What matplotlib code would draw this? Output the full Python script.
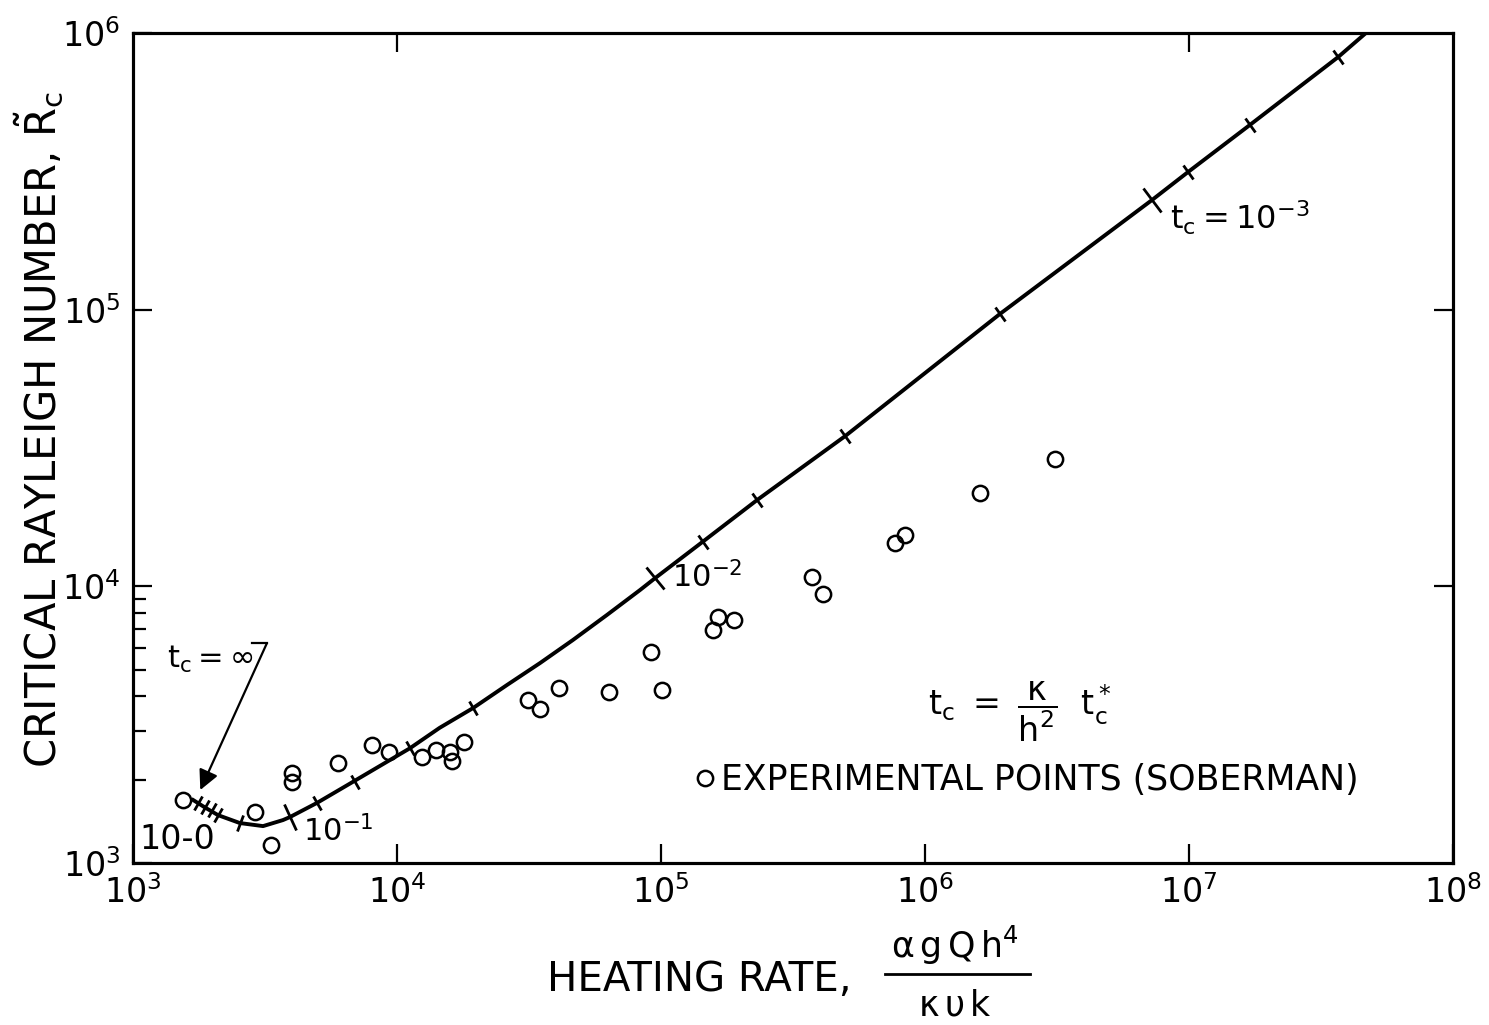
import numpy as np
import matplotlib
matplotlib.use('Agg')
import matplotlib.pyplot as plt
from matplotlib.markers import MarkerStyle
from matplotlib.transforms import Affine2D
from matplotlib.ticker import FixedLocator, NullFormatter, NullLocator
from matplotlib.lines import Line2D

plt.rcParams['font.family'] = ['DejaVu Sans']
plt.rcParams['mathtext.default'] = 'regular'

# stability curve, heating rate vs critical Rayleigh number
curve_x = [1690, 1870, 2100, 2540, 3110, 3700, 3930, 4980, 6470, 11200, 14500,
           19400, 26100, 34800, 46400, 62400, 83300, 94900, 1.44e5, 2.31e5,
           4.98e5, 1.92e6, 7.24e6, 9.9e6, 1.7e7, 3.67e7, 4.68e7]
curve_y = [1690, 1590, 1490, 1395, 1360, 1430, 1466, 1650, 1910, 2600, 3080,
           3630, 4400, 5280, 6400, 7880, 9700, 10700, 14500, 20500,
           34900, 96400, 2.49e5, 3.14e5, 4.65e5, 8.18e5, 1.0e6]

# t_c marks along the curve
tc_x = [1760, 1870, 1990, 2100, 2540, 3930, 4980, 6930, 11200, 19400,
        94900, 1.44e5, 2.31e5, 4.98e5, 1.92e6, 7.24e6, 9.9e6, 1.7e7, 3.67e7]
tc_y = [1647, 1594, 1554, 1491, 1395, 1466, 1647, 1962, 2604, 3633,
        10700, 14460, 20500, 34920, 96400, 2.49e5, 3.14e5, 4.65e5, 8.18e5]
tc_decades = [3930, 94900, 7.24e6]

# experimental points (Soberman)
exp_x = [1550, 2900, 3340, 4000, 4000, 5980, 8030, 9330, 12450, 14060, 15870,
         16140, 17940, 31300, 34800, 41100, 63500, 91600, 1.01e5, 1.57e5,
         1.64e5, 1.89e5, 3.73e5, 4.11e5, 7.69e5, 8.4e5, 1.62e6, 3.1e6]
exp_y = [1690, 1530, 1160, 2115, 1963, 2300, 2670, 2520, 2420, 2560, 2520,
         2340, 2740, 3880, 3600, 4290, 4150, 5800, 4220, 6950,
         7740, 7550, 10800, 9380, 14300, 15300, 21700, 28800]

fig = plt.figure(figsize=(14.89, 10.25), dpi=100)
ax = fig.add_axes([0.0893, 0.158, 0.8865, 0.8098])
ax.set_xscale('log')
ax.set_yscale('log')
ax.set_xlim(1e3, 1e8)
ax.set_ylim(1e3, 1e6)

ax.plot(curve_x, curve_y, color='k', lw=2.8, solid_joinstyle='round', zorder=3)
ax.plot(exp_x, exp_y, ls='none', marker='o', mfc='none', mec='k', ms=11, mew=1.8,
        label='EXPERIMENTAL POINTS (SOBERMAN)')

# short cross marks perpendicular to the curve
disp = ax.transData.transform(np.column_stack([curve_x, curve_y]))
for hx, hy in zip(tc_x, tc_y):
    p = ax.transData.transform((hx, hy))
    i = int(np.clip(np.searchsorted(disp[:, 0], p[0]), 1, len(disp) - 1))
    d = disp[i] - disp[i - 1]
    theta = np.degrees(np.arctan2(d[1], d[0]))
    m = MarkerStyle('|', transform=Affine2D().rotate_deg(theta))
    size = 21 if hx in tc_decades else 12
    ax.plot(hx, hy, ls='none', marker=m, ms=size, mew=2.0, color='k', zorder=4)

# axes and ticks
for s in ax.spines.values():
    s.set_linewidth(2.2)
ax.tick_params(which='major', direction='in', length=14, width=1.6,
               labelsize=24, pad=9, top=False, right=False)
ax.tick_params(which='minor', direction='in', length=9, width=1.6,
               top=False, right=False)
ax.xaxis.set_minor_locator(NullLocator())
ax.yaxis.set_minor_locator(FixedLocator([2e3, 3e3, 4e3, 5e3, 6e3, 7e3, 8e3, 9e3]))
ax.yaxis.set_minor_formatter(NullFormatter())

ax_t = ax.twiny()
ax_t.set_xscale('log')
ax_t.set_xlim(ax.get_xlim())
ax_t.set_xticks([1e4, 1e7])
ax_t.xaxis.set_minor_locator(NullLocator())
ax_t.tick_params(direction='in', length=14, width=1.6, labeltop=False, top=True)

ax_r = ax.twinx()
ax_r.set_yscale('log')
ax_r.set_ylim(ax.get_ylim())
ax_r.set_yticks([1e4, 1e5])
ax_r.yaxis.set_minor_locator(NullLocator())
ax_r.tick_params(direction='in', length=14, width=1.6, labelright=False, right=True)
for a in (ax_t, ax_r):
    for s in a.spines.values():
        s.set_linewidth(2.2)

# annotations
ax.text(0.005, 0.028, '10-0', transform=ax.transAxes, fontsize=24, ha='left', va='center')
ax.text(0.129, 0.038, '10$^{-1}$', transform=ax.transAxes, fontsize=22, ha='left', va='center')
ax.text(0.408, 0.345, '10$^{-2}$', transform=ax.transAxes, fontsize=22, ha='left', va='center')
ax.text(0.786, 0.777, r'$t_c = 10^{-3}$', transform=ax.transAxes, fontsize=23,
        ha='left', va='center')
ax.text(0.026, 0.245, r'$t_c=\infty$', transform=ax.transAxes, fontsize=22,
        ha='left', va='center')
ax.plot([0.090, 0.1015], [0.265, 0.265], color='k', lw=1.6, transform=ax.transAxes)
ax.annotate('', xy=(0.051, 0.088), xycoords='axes fraction',
            xytext=(0.1015, 0.265), textcoords='axes fraction',
            arrowprops=dict(arrowstyle='-|>', color='k', lw=1.6,
                            mutation_scale=30, shrinkA=0, shrinkB=0))
ax.text(0.672, 0.182, r'$t_c\ =\ \dfrac{\kappa}{h^2}\ \ t_c^*$', transform=ax.transAxes,
        fontsize=24, ha='center', va='center')

ax.legend(loc='center left', bbox_to_anchor=(0.427, 0.1), frameon=False, fontsize=25,
          handlelength=0.5, handletextpad=0.2, borderpad=0, borderaxespad=0,
          numpoints=1)

# axis titles
fig.text(0.026, 1 - 430 / 1025, r'CRITICAL RAYLEIGH NUMBER, $\tilde{R}_c$', rotation=90,
         fontsize=30, ha='center', va='center')
fig.text(0.3674, 0.044, 'HEATING RATE,', fontsize=29, ha='left', va='center')
fig.text(0.6414, 0.078, r'$\alpha\,g\,Q\,h^4$', fontsize=25, ha='center', va='center')
fig.text(0.6414, 0.0195, r'$\kappa\,\upsilon\,k$', fontsize=25, ha='center', va='center')
fig.add_artist(Line2D([0.5944, 0.6917], [0.0498, 0.0498], color='k', lw=2))

fig.savefig('out.png', dpi=100)
